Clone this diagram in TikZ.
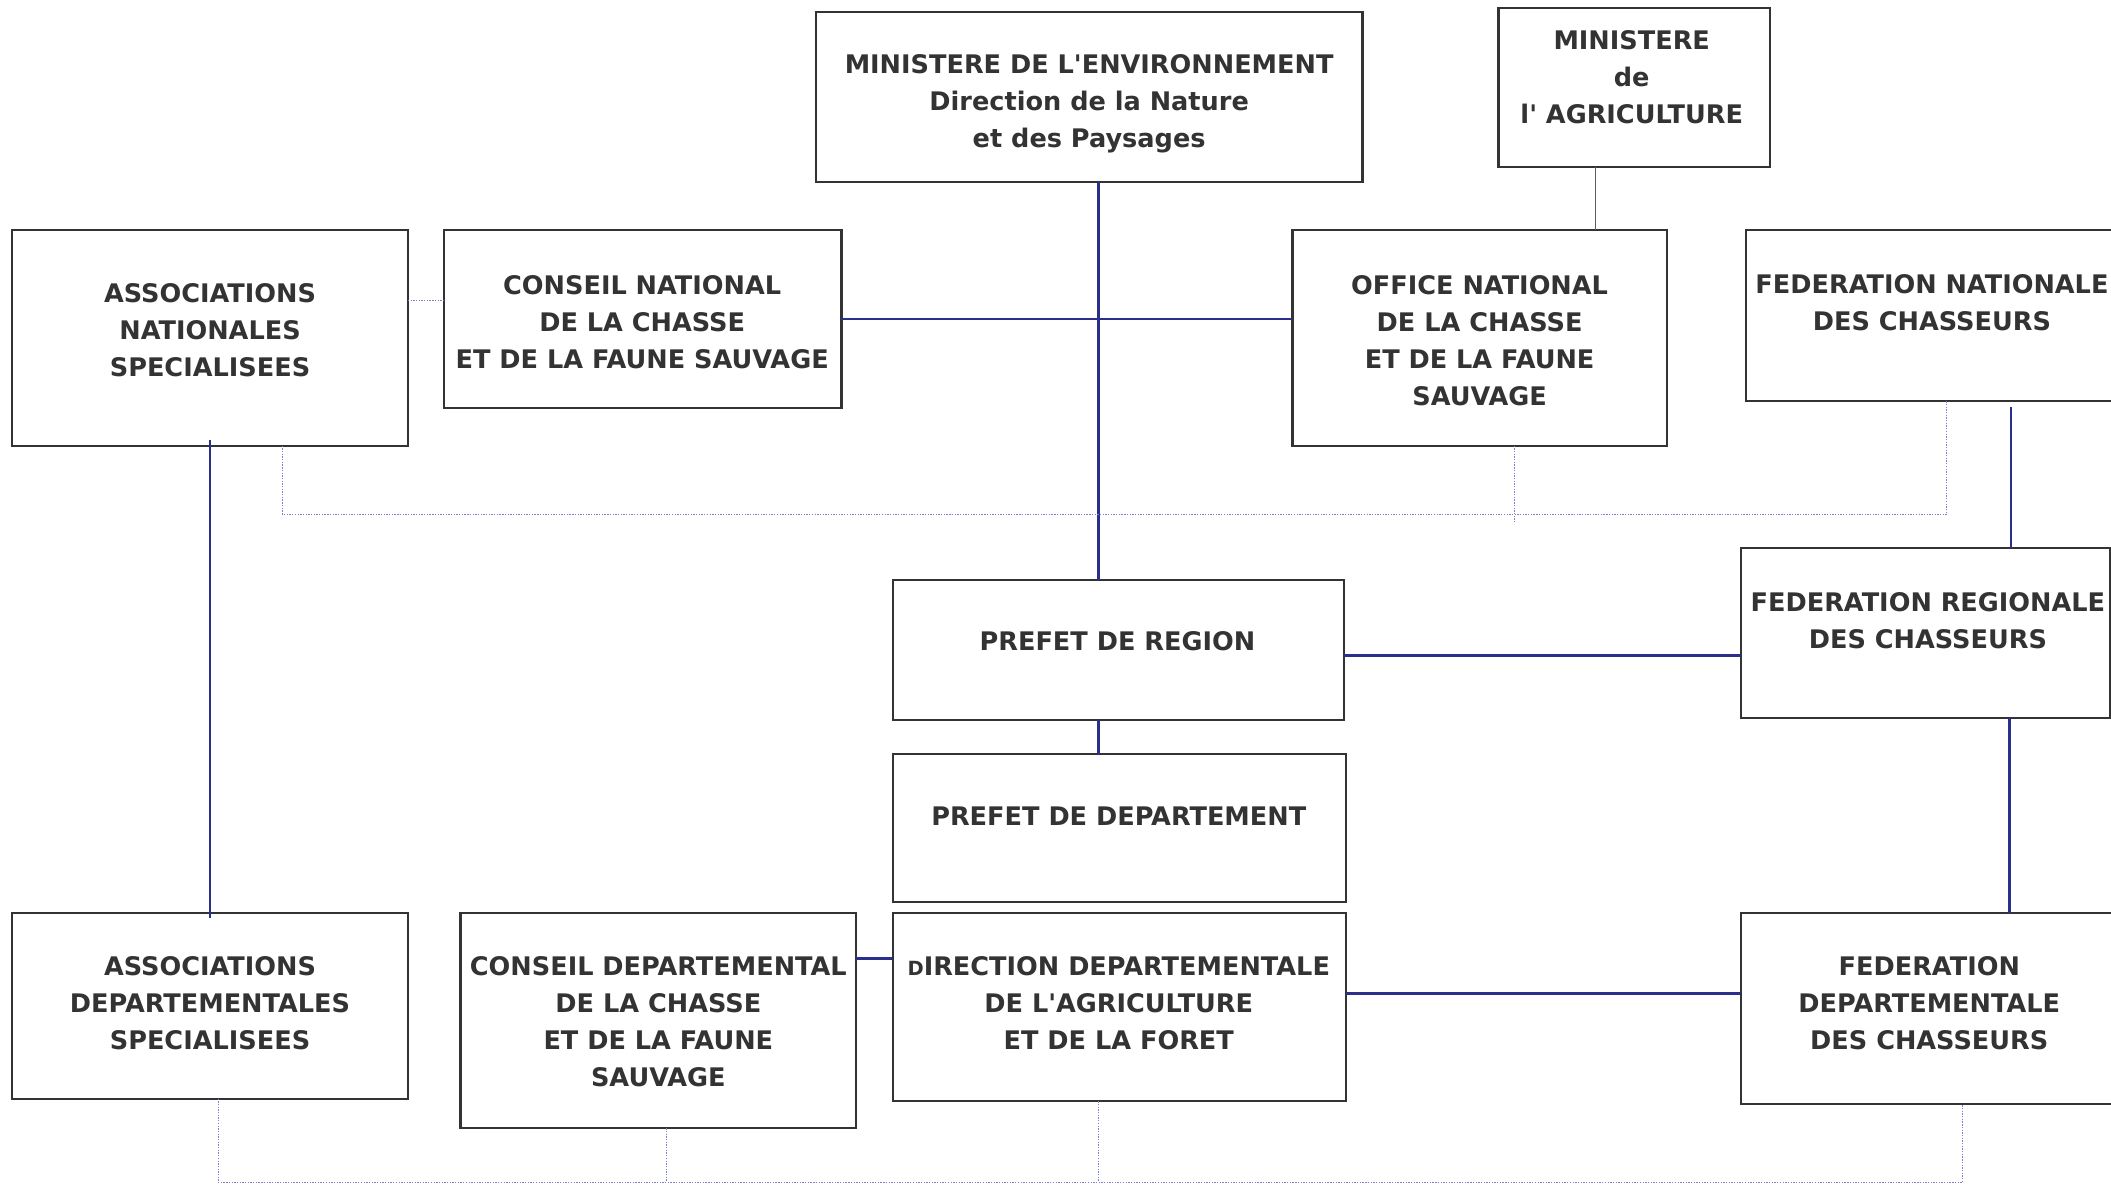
\documentclass[tikz,border=0pt]{standalone}
\usepackage{fontspec}
\setmainfont{DejaVu Sans}
\usetikzlibrary{fit,calc}
\definecolor{txt}{HTML}{333333}
\definecolor{navy}{HTML}{2B2F8C}
\definecolor{dotc}{HTML}{7F7FD0}
\begin{document}
\begin{tikzpicture}[x=1pt,y=-1pt,
  box/.style={draw=txt, line width=1.6pt, inner sep=0pt, outer sep=0pt},
  lbl/.style={text=txt, align=center, inner sep=0pt, font=\bfseries\fontsize{19}{27.5}\selectfont},
  link/.style={draw=navy, line width=1.8pt},
  thinlink/.style={draw=txt!80, line width=1pt},
  dotline/.style={draw=dotc, line width=0.8pt, dash pattern=on 1pt off 1pt}]
\fill[white] (0,0) rectangle (1568,880);
\useasboundingbox (0,0) rectangle (1568,880);

% boxes
\node[box, fit={(606,9)(1012,135)}] (env) {};
\node[box, fit={(1113,6)(1315,124)}] (agri) {};
\node[box, fit={(9,171)(303,331)}] (an) {};
\node[box, fit={(330,171)(625,303)}] (cn) {};
\node[box, fit={(960,171)(1238,331)}] (on) {};
\node[box, fit={(1297,171)(1576,298)}] (fn) {};
\node[box, fit={(663,431)(998,535)}] (preg) {};
\node[box, fit={(1293,407)(1567,533)}] (fr) {};
\node[box, fit={(663,560)(1000,670)}] (pd) {};
\node[box, fit={(9,678)(303,816)}] (ad) {};
\node[box, fit={(342,678)(636,838)}] (cd) {};
\node[box, fit={(663,678)(1000,818)}] (ddaf) {};
\node[box, fit={(1293,678)(1576,820)}] (fd) {};

% labels
\node[lbl] (env-t) at (809,77) {MINISTERE DE L\textquotesingle ENVIRONNEMENT\\Direction de la Nature\\et des Paysages};
\node[lbl] (agri-t) at (1212,57) {MINISTERE\\de\\l\textquotesingle{} AGRICULTURE};
\node[lbl] (an-t) at (156,245) {ASSOCIATIONS\\NATIONALES\\SPECIALISEES};
\node[lbl] (cn-t) at (477,239) {CONSEIL NATIONAL\\DE LA CHASSE\\ET DE LA FAUNE SAUVAGE};
\node[lbl] (on-t) at (1099,253) {OFFICE NATIONAL\\DE LA CHASSE\\ET DE LA FAUNE\\SAUVAGE};
\node[lbl] (fn-t) at (1435,225) {FEDERATION NATIONALE\\DES CHASSEURS};
\node[lbl] (preg-t) at (830,476) {PREFET DE REGION};
\node[lbl] (fr-t) at (1432,461) {FEDERATION REGIONALE\\DES CHASSEURS};
\node[lbl] (pd-t) at (831,606) {PREFET DE DEPARTEMENT};
\node[lbl] (ad-t) at (156,745) {ASSOCIATIONS\\DEPARTEMENTALES\\SPECIALISEES};
\node[lbl] (cd-t) at (489,759) {CONSEIL DEPARTEMENTAL\\DE LA CHASSE\\ET DE LA FAUNE\\SAUVAGE};
\node[lbl] (ddaf-t) at (831,745) {{\fontsize{14.5}{27.5}\selectfont D}IRECTION DEPARTEMENTALE\\DE L\textquotesingle AGRICULTURE\\ET DE LA FORET};
\node[lbl] (fd-t) at (1433,745) {FEDERATION\\DEPARTEMENTALE\\DES CHASSEURS};

% solid connectors
\draw[link] ([xshift=7pt]env.south) -- ([xshift=7pt]env.south |- preg.north);
\draw[link] (cn.east) -- (cn.east -| on.west);
\draw[thinlink] ([xshift=-29pt]agri.south) -- ([xshift=-29pt]agri.south |- on.north);
\draw[link] ([xshift=57pt,yshift=-4pt]fn.south) -- ([xshift=57pt]fn.south |- fr.north);
\draw[link] ([yshift=-4pt]preg.east) -- ([yshift=-4pt]preg.east -| fr.west);
\draw[link] ([xshift=-14.5pt]preg.south) -- ([xshift=-14.5pt]preg.south |- pd.north);
\draw[link] ([xshift=62.5pt]fr.south) -- ([xshift=62.5pt]fr.south |- fd.north);
\draw[link] ([yshift=10pt]ddaf.east) -- ([yshift=10pt]ddaf.east -| fd.west);
\draw[link] ([yshift=46pt]cd.east) -- ([yshift=46pt]cd.east -| ddaf.west);
\draw[link] ([yshift=4pt]an.south) -- ([yshift=-4pt]an.south |- ad.north);

% dotted connectors
\coordinate (b1) at (210,382);
\coordinate (b2) at (1446,382);
\coordinate (b3) at (1125,388);
\coordinate (c1) at (162,878);
\coordinate (c2) at (495,878);
\coordinate (c3) at (816,878);
\coordinate (c4) at (1458,878);
\draw[dotline] ([yshift=28pt]an.east) -- ([yshift=28pt]an.east -| cn.west);
\draw[dotline] (an.south -| b1) -- (b1) -- (b2) -- (fn.south -| b2);
\draw[dotline] (on.south -| b3) -- (b3);
\draw[dotline] (ad.south -| c1) -- (c1) -- (c4) -- (fd.south -| c4);
\draw[dotline] (cd.south -| c2) -- (c2);
\draw[dotline] (ddaf.south -| c3) -- (c3);
\end{tikzpicture}
\end{document}
